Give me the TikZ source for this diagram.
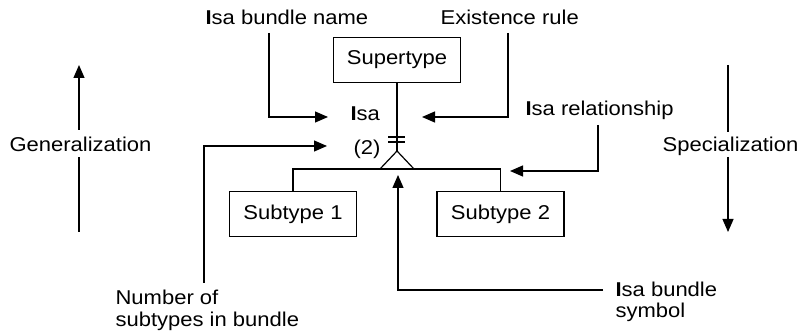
\documentclass[tikz,border=0pt]{standalone}
\usepackage{fontspec}
\setmainfont{Liberation Sans}[FakeStretch=1.1]
\usetikzlibrary{arrows.meta}

\begin{document}
\begin{tikzpicture}[x=1pt, y=-1pt, line width=1.2pt,
  txt/.style={font=\fontsize{20}{21}\selectfont},
  lbl/.style={txt, anchor=base west, inner sep=0pt},
  box/.style={txt, draw, minimum width=127pt, minimum height=45pt, inner sep=0pt},
  arr/.style={-{Triangle[length=13pt,width=11pt]}}]

  \useasboundingbox (0,0) rectangle (802,336);

  % entity boxes
  \node[box] (sup)  at (397,60)    {Supertype};
  \node[box] (sub1) at (293,214)   {Subtype 1};
  \node[box] (sub2) at (500.5,214) {Subtype 2};

  % labels
  \node[lbl] (ibn)  at (205,25)  {\textbf{I}sa bundle name};
  \node[lbl] (ex)   at (440,25)  {Existence rule};
  \node[lbl] (isa)  at (350,121) {\textbf{I}sa};
  \node[lbl] (irel) at (525,116) {\textbf{I}sa relationship};
  \node[lbl] (cnt)  at (353,155) {(2)};
  \node[lbl] (nob1) at (115,305) {Number of};
  \node[lbl] (nob2) at (115,326) {subtypes in bundle};
  \node[lbl] (ibs1) at (615,297) {\textbf{I}sa bundle};
  \node[lbl] (ibs2) at (615,317) {symbol};
  \node[lbl] (gen)  at (9,152)   {Generalization};
  \node[lbl] (spec) at (662,152) {Specialization};

  % isa bundle symbol
  \coordinate (apex) at (397,151);
  \coordinate (tl) at (380,169);
  \coordinate (tr) at (414,169);
  \coordinate (bl) at (sub1.north |- tl);
  \coordinate (br) at (sub2.north |- tl);
  \draw (sup.south) -- (apex);
  \draw (tl) -- (apex) -- (tr);
  \draw (sub1.north) -- (bl) -- (br) -- (sub2.north);

  % existence rule bars
  \coordinate (barAl) at (388,137); \coordinate (barAr) at (405,137);
  \coordinate (barBl) at (388,142); \coordinate (barBr) at (405,142);
  \draw (barAl) -- (barAr);
  \draw (barBl) -- (barBr);

  % callout leaders
  \coordinate (ibnA) at (269,33);  \coordinate (ibnT) at (328,117);
  \coordinate (exA)  at (508,33);  \coordinate (exT)  at (422,117);
  \coordinate (irA)  at (598,125); \coordinate (irT)  at (510,171);
  \coordinate (nobA) at (204,283); \coordinate (nobT) at (327,146);
  \coordinate (ibsA) at (603,290); \coordinate (ibsT) at (398,175);
  \draw[arr] (ibnA) |- (ibnT);
  \draw[arr] (exA)  |- (exT);
  \draw[arr] (irA)  |- (irT);
  \draw[arr] (nobA) |- (nobT);
  \draw[arr] (ibsA) -| (ibsT);

  % direction arrows
  \coordinate (genBot) at (79,232); \coordinate (genLo) at (79,157);
  \coordinate (genHi)  at (79,130); \coordinate (genTop) at (79,65);
  \draw (genBot) -- (genLo);
  \draw[arr] (genHi) -- (genTop);
  \coordinate (spTop) at (728,65);  \coordinate (spHi) at (728,132);
  \coordinate (spLo)  at (728,157); \coordinate (spBot) at (728,232);
  \draw (spTop) -- (spHi);
  \draw[arr] (spLo) -- (spBot);
\end{tikzpicture}
\end{document}
